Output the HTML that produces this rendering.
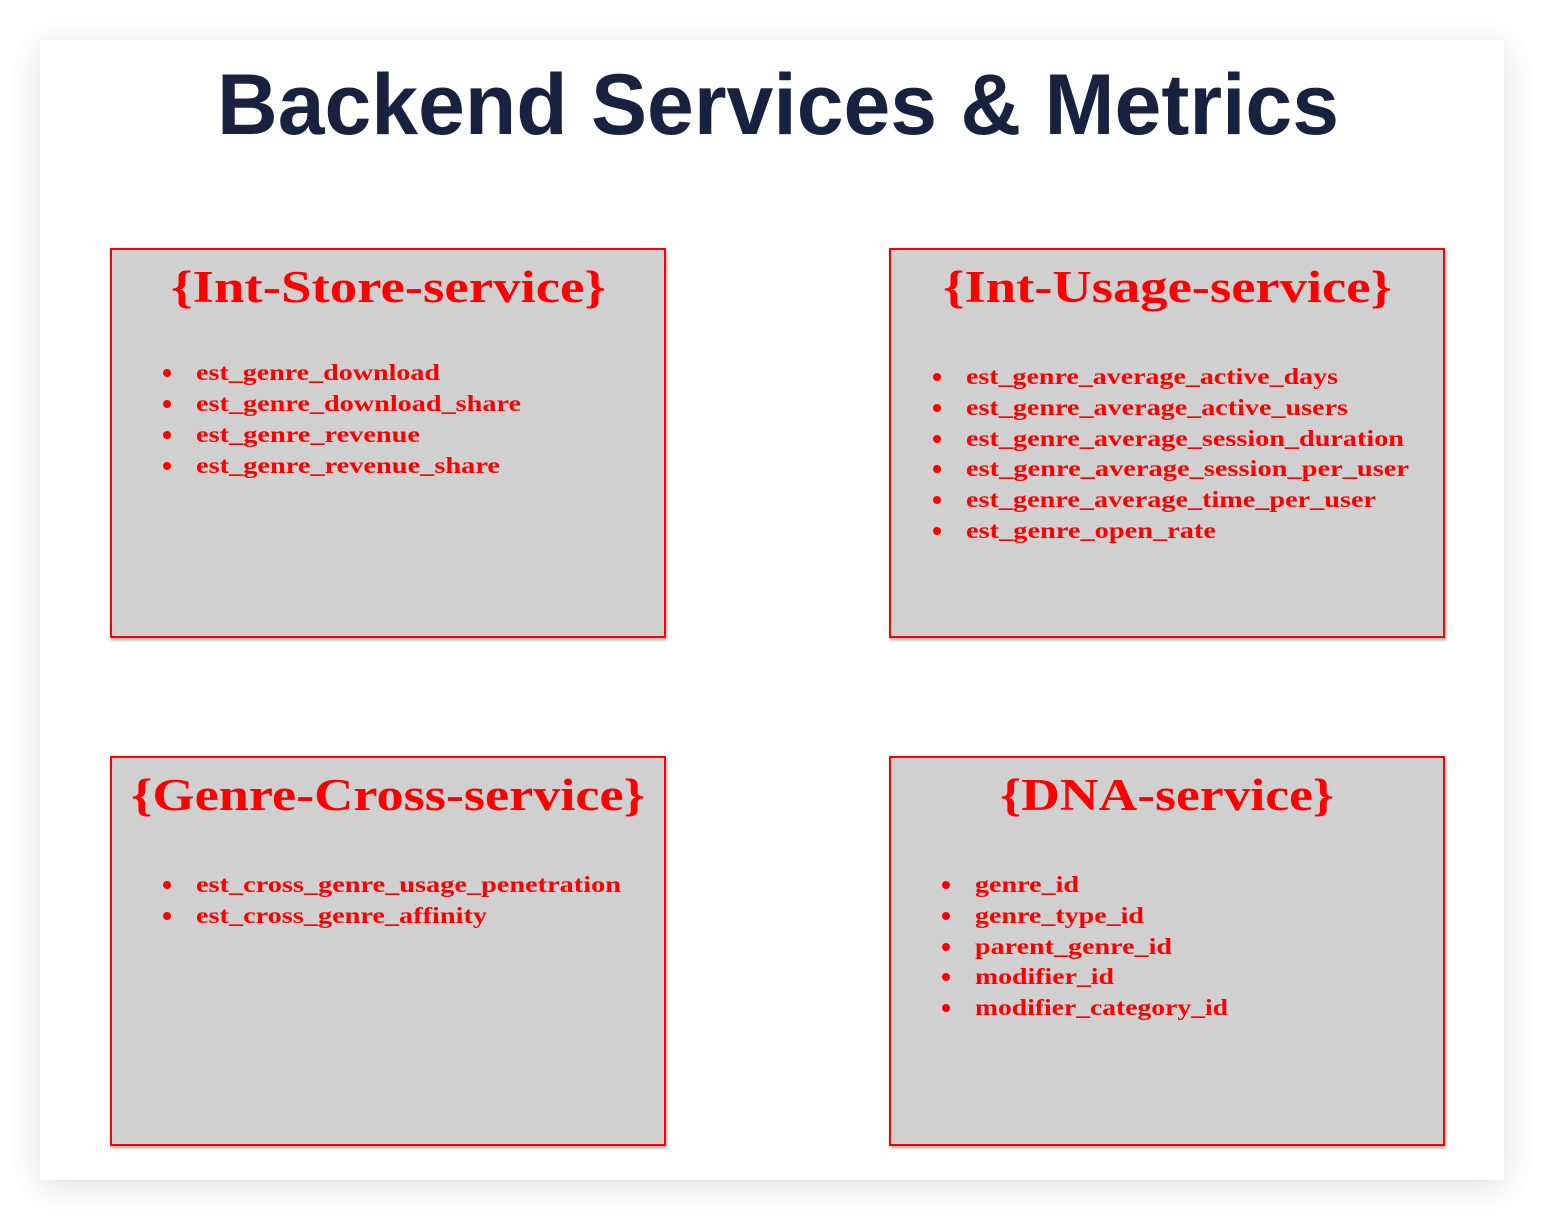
<!DOCTYPE html>
<html><head><meta charset="utf-8"><style>
html,body{margin:0;padding:0;background:#fff;}
#card{position:absolute;left:40px;top:40px;width:1464px;height:1140px;background:#fff;box-shadow:0 6px 30px rgba(0,0,0,0.13);}
svg{position:absolute;left:0;top:0;}
</style></head><body>
<div id="card"></div>
<svg width="1544" height="1220" viewBox="0 0 1544 1220" xmlns="http://www.w3.org/2000/svg">
<defs><filter id="sh" x="-5%" y="-5%" width="110%" height="110%"><feDropShadow dx="1" dy="2" stdDeviation="1.5" flood-color="#000" flood-opacity="0.35"/></filter></defs>
<text x="217" y="134" textLength="1122" lengthAdjust="spacingAndGlyphs" font-family="Liberation Sans, sans-serif" font-weight="bold" font-size="86" fill="#172241">Backend Services &amp; Metrics</text>
<g fill="#d0d0d0" stroke="#ff0000" stroke-width="2" filter="url(#sh)">
<rect x="111" y="249" width="554" height="388"/>
<rect x="890" y="249" width="554" height="388"/>
<rect x="111" y="757" width="554" height="388"/>
<rect x="890" y="757" width="554" height="388"/>
</g>
<g font-family="Liberation Serif, serif" font-weight="bold" fill="#ff0000" font-size="45">
<text x="171" y="302" textLength="435" lengthAdjust="spacingAndGlyphs">{Int-Store-service}</text>
<text x="943" y="302" textLength="449" lengthAdjust="spacingAndGlyphs">{Int-Usage-service}</text>
<text x="131" y="810" textLength="514" lengthAdjust="spacingAndGlyphs">{Genre-Cross-service}</text>
<text x="1000" y="810" textLength="334" lengthAdjust="spacingAndGlyphs">{DNA-service}</text>
</g>
<g fill="#ff0000">
<circle cx="167" cy="373" r="4"/><circle cx="167" cy="404" r="4"/><circle cx="167" cy="435" r="4"/><circle cx="167" cy="466" r="4"/>
<circle cx="937" cy="377" r="4"/><circle cx="937" cy="408" r="4"/><circle cx="937" cy="439" r="4"/><circle cx="937" cy="469" r="4"/><circle cx="937" cy="500" r="4"/><circle cx="937" cy="531" r="4"/>
<circle cx="167" cy="885" r="4"/><circle cx="167" cy="916" r="4"/>
<circle cx="946" cy="885" r="4"/><circle cx="946" cy="916" r="4"/><circle cx="946" cy="947" r="4"/><circle cx="946" cy="977" r="4"/><circle cx="946" cy="1008" r="4"/>
</g>
<g font-family="Liberation Serif, serif" font-weight="bold" fill="#ff0000" font-size="23">
<text x="196" y="380" textLength="244" lengthAdjust="spacingAndGlyphs">est_genre_download</text>
<text x="196" y="411" textLength="325" lengthAdjust="spacingAndGlyphs">est_genre_download_share</text>
<text x="196" y="442" textLength="224" lengthAdjust="spacingAndGlyphs">est_genre_revenue</text>
<text x="196" y="473" textLength="304" lengthAdjust="spacingAndGlyphs">est_genre_revenue_share</text>
<text x="966" y="384" textLength="372" lengthAdjust="spacingAndGlyphs">est_genre_average_active_days</text>
<text x="966" y="415" textLength="382" lengthAdjust="spacingAndGlyphs">est_genre_average_active_users</text>
<text x="966" y="446" textLength="438" lengthAdjust="spacingAndGlyphs">est_genre_average_session_duration</text>
<text x="966" y="476" textLength="443" lengthAdjust="spacingAndGlyphs">est_genre_average_session_per_user</text>
<text x="966" y="507" textLength="410" lengthAdjust="spacingAndGlyphs">est_genre_average_time_per_user</text>
<text x="966" y="538" textLength="250" lengthAdjust="spacingAndGlyphs">est_genre_open_rate</text>
<text x="196" y="892" textLength="425" lengthAdjust="spacingAndGlyphs">est_cross_genre_usage_penetration</text>
<text x="196" y="923" textLength="291" lengthAdjust="spacingAndGlyphs">est_cross_genre_affinity</text>
<text x="975" y="892" textLength="104" lengthAdjust="spacingAndGlyphs">genre_id</text>
<text x="975" y="923" textLength="169" lengthAdjust="spacingAndGlyphs">genre_type_id</text>
<text x="975" y="954" textLength="197" lengthAdjust="spacingAndGlyphs">parent_genre_id</text>
<text x="975" y="984" textLength="139" lengthAdjust="spacingAndGlyphs">modifier_id</text>
<text x="975" y="1015" textLength="253" lengthAdjust="spacingAndGlyphs">modifier_category_id</text>
</g>
</svg>
</body></html>
